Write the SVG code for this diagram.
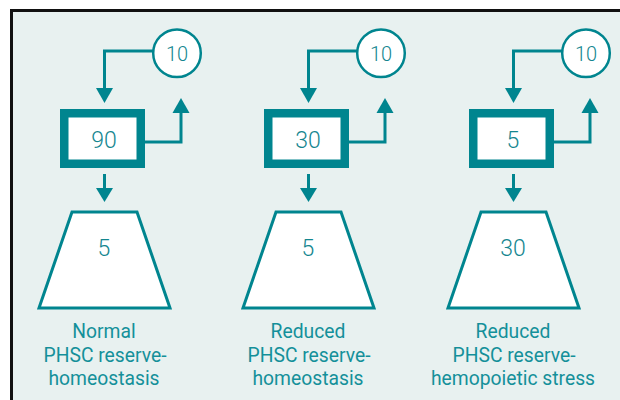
<svg xmlns="http://www.w3.org/2000/svg" width="620" height="400" viewBox="0 0 620 400">
<defs>
<style>
.frame{fill:#E8F1F0;stroke:#111;stroke-width:3}
.ln{fill:none;stroke:#00858F;stroke-width:3}
.hd{fill:#00858F}
.box{fill:#fff;stroke:#00858F;stroke-width:8.5}
.circ{fill:#fff;stroke:#00858F;stroke-width:2.5}
.trap{fill:#fff;stroke:#00858F;stroke-width:3;stroke-linejoin:miter}
.num{font-family:Roboto,"Liberation Sans",sans-serif;font-weight:300;fill:#14868F;text-anchor:middle;font-size:23px}
.cnum{font-family:Roboto,"Liberation Sans",sans-serif;font-weight:300;fill:#14868F;text-anchor:middle;font-size:20px}
.lbl{font-family:Roboto,"Liberation Sans",sans-serif;fill:#14909A;text-anchor:middle;font-size:19.3px}
</style>
</defs>
<rect class="frame" x="11.5" y="10.5" width="620" height="400"/>
<g id="connectors">
<g>
<polyline class="ln" points="153,51 104.5,51 104.5,90"/>
<polygon class="hd" points="96,88 113,88 104.5,103"/>
<polyline class="ln" points="145,142 181,142 181,111"/>
<polygon class="hd" points="172.5,113 189.5,113 181,98"/>
<line class="ln" x1="104.5" y1="174" x2="104.5" y2="190"/>
<polygon class="hd" points="96,188 113,188 104.5,202"/>
</g>
<g transform="translate(204,0)">
<polyline class="ln" points="153,51 104.5,51 104.5,90"/>
<polygon class="hd" points="96,88 113,88 104.5,103"/>
<polyline class="ln" points="145,142 181,142 181,111"/>
<polygon class="hd" points="172.5,113 189.5,113 181,98"/>
<line class="ln" x1="104.5" y1="174" x2="104.5" y2="190"/>
<polygon class="hd" points="96,188 113,188 104.5,202"/>
</g>
<g transform="translate(409,0)">
<polyline class="ln" points="153,51 104.5,51 104.5,90"/>
<polygon class="hd" points="96,88 113,88 104.5,103"/>
<polyline class="ln" points="145,142 181,142 181,111"/>
<polygon class="hd" points="172.5,113 189.5,113 181,98"/>
<line class="ln" x1="104.5" y1="174" x2="104.5" y2="190"/>
<polygon class="hd" points="96,188 113,188 104.5,202"/>
</g>
</g>
<g id="col1">
<g id="circle1"><circle class="circ" cx="177" cy="53.3" r="23.8"/><text class="cnum" x="177" y="61">10</text></g>
<g id="box1"><rect class="box" x="64.25" y="113.25" width="76.5" height="50.5"/><text class="num" x="104" y="148">90</text></g>
<g id="trap1"><polygon class="trap" points="72,212 137,212 170,308 39,308"/><text class="num" x="104" y="256">5</text></g>
<g id="label1"><text class="lbl" x="104" y="338">Normal</text><text class="lbl" x="105" y="362">PHSC reserve-</text><text class="lbl" x="104" y="385">homeostasis</text></g>
</g>
<g id="col2" transform="translate(204,0)">
<g id="circle2"><circle class="circ" cx="177" cy="53.3" r="23.8"/><text class="cnum" x="177" y="61">10</text></g>
<g id="box2"><rect class="box" x="64.25" y="113.25" width="76.5" height="50.5"/><text class="num" x="104" y="148">30</text></g>
<g id="trap2"><polygon class="trap" points="72,212 137,212 170,308 39,308"/><text class="num" x="104" y="256">5</text></g>
<g id="label2"><text class="lbl" x="104" y="338">Reduced</text><text class="lbl" x="105" y="362">PHSC reserve-</text><text class="lbl" x="104" y="385">homeostasis</text></g>
</g>
<g id="col3" transform="translate(409,0)">
<g id="circle3"><circle class="circ" cx="177" cy="53.3" r="23.8"/><text class="cnum" x="177" y="61">10</text></g>
<g id="box3"><rect class="box" x="64.25" y="113.25" width="76.5" height="50.5"/><text class="num" x="104" y="148">5</text></g>
<g id="trap3"><polygon class="trap" points="72,212 137,212 170,308 39,308"/><text class="num" x="104" y="256">30</text></g>
<g id="label3"><text class="lbl" x="104" y="338">Reduced</text><text class="lbl" x="105" y="362">PHSC reserve-</text><text class="lbl" x="104" y="385">hemopoietic stress</text></g>
</g>
</svg>
